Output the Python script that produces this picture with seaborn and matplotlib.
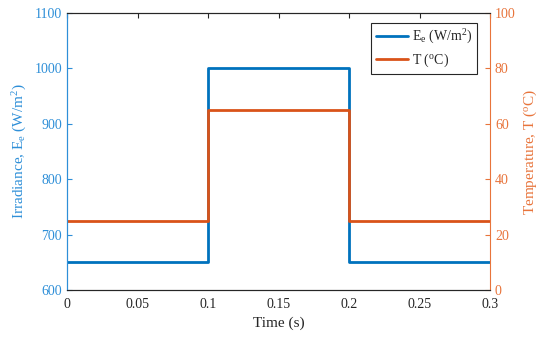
import matplotlib
matplotlib.use("Agg")
import matplotlib.pyplot as plt
import seaborn as sns
import pandas as pd

time_s = [0, 0.1, 0.2, 0.3]
irradiance = [650, 1000, 650, 650]
temperature = [25, 65, 25, 25]

blue = "#0072BD"
orange = "#D95319"
blue_axis = "#2E8FD8"
orange_axis = "#E8743B"

sns.set_style("white")
plt.rcParams["font.family"] = ["Liberation Serif", "DejaVu Serif"]
plt.rcParams["mathtext.fontset"] = "custom"
plt.rcParams["mathtext.rm"] = "Liberation Serif"
plt.rcParams["mathtext.it"] = "Liberation Serif:italic"
plt.rcParams["font.size"] = 10

df = pd.DataFrame({"time": time_s, "irr": irradiance, "temp": temperature})

fig = plt.figure(figsize=(5.5, 3.38), dpi=100)
ax = fig.add_axes([0.122, 0.142, 0.769, 0.820])
ax2 = ax.twinx()

sns.lineplot(data=df, x="time", y="irr", ax=ax, color=blue, linewidth=2,
             drawstyle="steps-post", label=r"E$_\mathrm{e}$ (W/m$^\mathrm{2}$)", legend=False)
sns.lineplot(data=df, x="time", y="temp", ax=ax2, color=orange, linewidth=2,
             drawstyle="steps-post", label=r"T ($^\mathrm{o}$C)", legend=False)

ax.set_xlim(0, 0.3)
ax.set_ylim(600, 1100)
ax2.set_ylim(0, 100)
ax.set_xticks([0, 0.05, 0.1, 0.15, 0.2, 0.25, 0.3])
ax.set_xticklabels(["0", "0.05", "0.1", "0.15", "0.2", "0.25", "0.3"])
ax.set_yticks(range(600, 1101, 100))
ax2.set_yticks(range(0, 101, 20))

ax.set_xlabel("Time (s)", fontsize=11, color="#262626", labelpad=4)
ax.set_ylabel(r"Irradiance, E$_\mathrm{e}$ (W/m$^\mathrm{2}$)", fontsize=11, color=blue_axis)
ax2.set_ylabel(r"Temperature, T ($^\mathrm{o}$C)", fontsize=11, color=orange_axis)

for a in (ax, ax2):
    for s in a.spines.values():
        s.set_linewidth(0.8)
        s.set_color("#262626")
ax2.spines["left"].set_color(blue_axis)
ax2.spines["right"].set_color(orange_axis)
ax.spines["left"].set_color(blue_axis)
ax.spines["right"].set_visible(False)

ax.tick_params(axis="x", direction="in", top=True, length=3.5, colors="#262626",
               labelsize=10, pad=6)
ax.tick_params(axis="y", direction="in", length=3.5, colors=blue_axis, labelsize=10, left=True)
ax2.tick_params(axis="y", direction="in", length=3.5, colors=orange_axis, labelsize=10, right=True)

h1, l1 = ax.get_legend_handles_labels()
h2, l2 = ax2.get_legend_handles_labels()
leg = ax2.legend(h1 + h2, l1 + l2, loc="upper right", fancybox=False, framealpha=1,
                 edgecolor="#262626", fontsize=10, handlelength=2.3, handletextpad=0.3,
                 borderpad=0.35, labelspacing=0.45, borderaxespad=0,
                 bbox_to_anchor=(0.970, 0.965))
leg.get_frame().set_linewidth(0.8)

fig.savefig("out.png", dpi=100)
